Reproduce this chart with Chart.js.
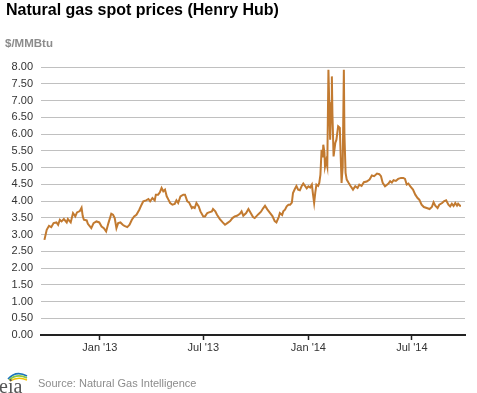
<!DOCTYPE html>
<html>
<head>
<meta charset="utf-8">
<script src="https://cdn.jsdelivr.net/npm/chart.js@4.4.1/dist/chart.umd.min.js"></script>
<style>
  html, body { margin: 0; padding: 0; background: #fff; }
  #wrap { position: relative; width: 477px; height: 393px; overflow: hidden; font-family: Arial, "Liberation Sans", sans-serif; }
  #chart { position: absolute; left: 0; top: 0; }
  #title { position: absolute; left: 6px; top: 1px; font-size: 16px; font-weight: bold; color: #000; white-space: nowrap; }
  #unit { position: absolute; left: 5px; top: 37px; font-size: 11.5px; font-weight: bold; color: #8c8c8c; }
  #source { position: absolute; left: 38px; top: 377px; font-size: 11px; color: #8c8c8c; white-space: nowrap; }
  #logo { position: absolute; left: 0; top: 369px; }
</style>
</head>
<body>
<div id="wrap">
  <canvas id="chart" width="477" height="393"></canvas>
  <div id="title">Natural gas spot prices (Henry Hub)</div>
  <div id="unit">$/MMBtu</div>
  <svg id="logo" width="32" height="24" viewBox="0 0 32 24">
    <path d="M8 10 Q16 1 27 7" fill="none" stroke="#1b75bb" stroke-width="1.6"/>
    <path d="M9 11 Q17 4 27 9" fill="none" stroke="#8dc63f" stroke-width="1.6"/>
    <path d="M10 12 Q18 7 27 11" fill="none" stroke="#f5c400" stroke-width="1.4"/>
    <text x="-1" y="24" font-family="'Liberation Serif', 'DejaVu Serif', serif" font-size="20" fill="#555">eia</text>
  </svg>
  <div id="source">Source: Natural Gas Intelligence</div>
</div>
<script>
// days since 1 Jan 2013
const days = [
  -97, -93, -89, -85, -81, -76, -73, -70, -67, -63, -58, -56, -51, -47, -43, -40, -35, -32, -30, -28,
  -23, -21, -15, -11, -6, -1, 3, 7, 11, 15, 20, 23, 26, 29, 32, 36, 40, 43, 48, 52,
  56, 60, 64, 69, 73, 76, 81, 85, 88, 92, 96, 98, 102, 105, 108, 111, 114, 117, 120, 123,
  127, 131, 134, 137, 141, 146, 149, 153, 156, 161, 163, 166, 169, 173, 176, 181, 184, 188, 191, 196,
  198, 202, 205, 210, 215, 219, 223, 228, 232, 236, 240, 245, 248, 251, 256, 260, 264, 268, 271, 277,
  282, 286, 289, 293, 298, 302, 306, 309, 313, 315, 319, 321, 324, 327, 330, 333, 336, 338, 341, 344,
  347, 350, 353, 356, 359, 362, 365, 368, 371, 373, 375, 377, 379, 382, 384, 386, 388, 390, 391, 393,
  394, 396, 398, 400, 402, 403, 405, 406, 407, 409, 412, 414, 417, 419, 420, 423, 425, 427, 428, 430,
  432, 435, 439, 443, 447, 451, 454, 458, 462, 467, 472, 476, 480, 485, 489, 492, 495, 499, 502, 505,
  508, 511, 514, 518, 522, 527, 531, 534, 537, 540, 543, 548, 552, 556, 559, 563, 567, 572, 577, 581,
  584, 587, 591, 594, 599, 602, 606, 610, 613, 616, 619, 622, 625, 627, 630, 632
];
// $/MMBtu
const prices = [
  2.84, 3.14, 3.26, 3.22, 3.34, 3.36, 3.29, 3.44, 3.39, 3.46, 3.36, 3.46, 3.36, 3.64, 3.54, 3.66, 3.70, 3.80, 3.55, 3.44,
  3.42, 3.32, 3.19, 3.34, 3.39, 3.36, 3.24, 3.19, 3.09, 3.34, 3.62, 3.59, 3.49, 3.19, 3.34, 3.36, 3.29, 3.26, 3.22, 3.29,
  3.44, 3.54, 3.59, 3.74, 3.89, 3.99, 4.02, 4.06, 3.99, 4.09, 4.02, 4.19, 4.19, 4.26, 4.39, 4.29, 4.34, 4.14, 4.04, 3.94,
  3.89, 3.91, 4.02, 3.94, 4.14, 4.19, 4.19, 3.99, 3.96, 3.79, 3.82, 3.79, 3.94, 3.84, 3.69, 3.54, 3.54, 3.64, 3.66, 3.69,
  3.76, 3.69, 3.59, 3.46, 3.36, 3.29, 3.34, 3.40, 3.49, 3.54, 3.56, 3.62, 3.69, 3.56, 3.64, 3.76, 3.64, 3.52, 3.49, 3.60,
  3.68, 3.79, 3.86, 3.75, 3.64, 3.55, 3.40, 3.36, 3.52, 3.64, 3.58, 3.69, 3.74, 3.84, 3.89, 3.89, 3.95, 4.24, 4.35, 4.45,
  4.34, 4.32, 4.44, 4.52, 4.45, 4.38, 4.44, 4.40, 4.49, 4.20, 3.94, 4.25, 4.49, 4.45, 4.54, 4.79, 5.53, 5.30, 5.68, 5.45,
  5.03, 5.20, 5.03, 7.92, 6.50, 5.83, 6.93, 7.72, 6.60, 5.33, 5.73, 5.83, 6.23, 6.20, 6.13, 4.54, 5.03, 7.92, 6.00, 4.84,
  4.64, 4.55, 4.44, 4.34, 4.44, 4.39, 4.49, 4.45, 4.56, 4.58, 4.64, 4.76, 4.74, 4.82, 4.80, 4.74, 4.54, 4.44, 4.48, 4.52,
  4.59, 4.55, 4.62, 4.60, 4.66, 4.69, 4.69, 4.66, 4.49, 4.52, 4.44, 4.34, 4.19, 4.09, 4.04, 3.89, 3.82, 3.79, 3.76, 3.82,
  3.96, 3.86, 3.79, 3.89, 3.94, 3.99, 4.02, 3.89, 3.84, 3.92, 3.85, 3.94, 3.86, 3.92, 3.86, 3.86
];
const tickDays = [0, 181, 365, 546];
const tickLabels = ["Jan '13", "Jul '13", "Jan '14", "Jul '14"];
const dayMin = -103;
const dayMax = 639;

const points = days.map((d, i) => ({ x: d, y: prices[i] }));

new Chart(document.getElementById('chart'), {
  type: 'line',
  data: {
    datasets: [{
      data: points,
      borderColor: '#c27a30',
      borderWidth: 2,
      pointRadius: 0,
      tension: 0,
      fill: false,
    }],
  },
  options: {
    responsive: false,
    animation: false,
    devicePixelRatio: 1,
    layout: { padding: { top: 67, right: 12, left: 0, bottom: 0 } },
    plugins: { legend: { display: false }, tooltip: { enabled: false } },
    scales: {
      x: {
        type: 'linear',
        min: dayMin,
        max: dayMax,
        afterBuildTicks: (scale) => { scale.ticks = tickDays.map(v => ({ value: v })); },
        afterFit: (scale) => { scale.height = 58; },
        grid: { display: true, drawOnChartArea: false, drawTicks: true, tickLength: 5, tickWidth: 1.5, tickColor: '#222' },
        border: { display: true, color: '#222', width: 2 },
        ticks: {
          padding: 1,
          color: '#333',
          font: { family: 'Arial, "Liberation Sans", sans-serif', size: 11 },
          maxRotation: 0,
          autoSkip: false,
          callback: (v) => tickLabels[tickDays.indexOf(v)],
        },
      },
      y: {
        min: 0,
        max: 8,
        afterFit: (scale) => { scale.width = 41; },
        grid: { color: '#c0c0c0', lineWidth: 1, drawTicks: false },
        border: { display: false },
        ticks: {
          stepSize: 0.5,
          padding: 8,
          color: '#333',
          font: { family: 'Arial, "Liberation Sans", sans-serif', size: 11 },
          callback: (v) => v.toFixed(2),
        },
      },
    },
  },
});
</script>
</body>
</html>
